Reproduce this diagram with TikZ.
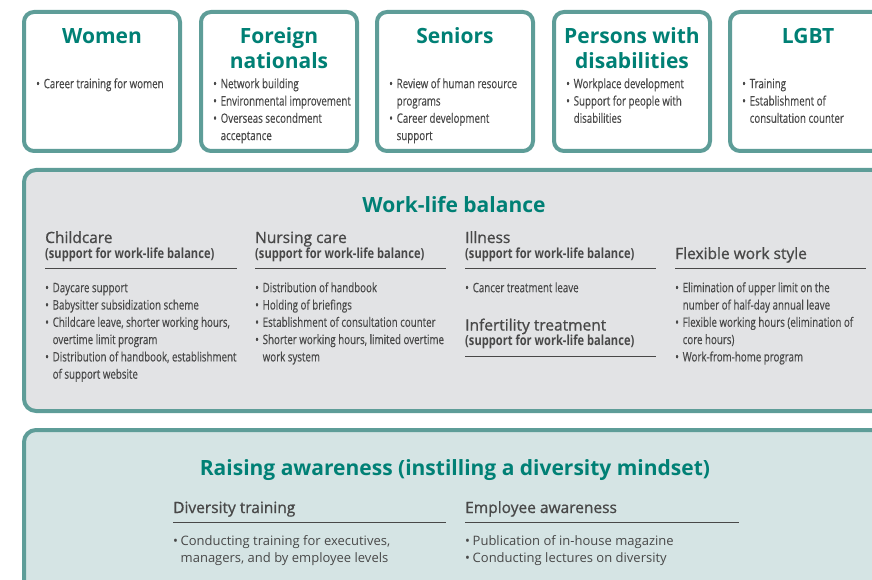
\documentclass[tikz,border=0pt]{standalone}
\usepackage{fontspec}
\setmainfont{Open Sans}
\newfontfamily\narrowfont[FakeStretch=0.75,FakeBold=0.3]{Open Sans}
\newfontfamily\narrowsemi[FakeStretch=0.8]{Open Sans}
\newfontfamily\semifont[FakeBold=0.9]{Open Sans}
\usepackage{tikz}
\usetikzlibrary{positioning}
\definecolor{FrameTeal}{RGB}{94,157,152}
\definecolor{HeadTeal}{RGB}{0,128,117}
\definecolor{InkGray}{RGB}{72,72,72}
\definecolor{PanelGray}{RGB}{226,227,229}
\definecolor{PanelTeal}{RGB}{213,228,228}
\newcommand\bul{\makebox[7.5pt][l]{\textbullet}}
\newcommand\blist[1]{\begin{tabular}{@{}l@{}l@{}}#1\end{tabular}}
\tikzset{
  grp/.style={draw=FrameTeal,line width=4pt,rounded corners=10pt,fill=white,
    minimum width=156pt,minimum height=139pt,inner sep=0pt},
  grptitle/.style={text=HeadTeal,font=\bfseries\fontsize{21}{25.5}\selectfont,
    align=center,anchor=north,inner sep=0pt},
  panel/.style={draw=FrameTeal,line width=4pt,rounded corners=12pt,inner sep=0pt,
    minimum width=866pt},
  items/.style={text=InkGray,font=\narrowfont\fontsize{13}{17.3}\selectfont,
    anchor=north west,inner sep=0pt},
  head/.style={text=InkGray,font=\semifont\fontsize{15.5}{18}\selectfont,anchor=base west,inner sep=0pt},
  subhead/.style={text=InkGray,font=\narrowsemi\bfseries\fontsize{13.9}{16}\selectfont,
    anchor=base west,inner sep=0pt},
  rule/.style={draw=InkGray,line width=0.9pt},
}

\begin{document}
\begin{tikzpicture}[x=1pt,y=-1pt]
\useasboundingbox (0,0) rectangle (872,580);
\clip (0,0) rectangle (872,580);

% target groups
\node[grp] (women) at (102,81.5) {};
\node[grp] (foreign) at (279,81.5) {};
\node[grp] (seniors) at (455,81.5) {};
\node[grp] (disab) at (632,81.5) {};
\node[grp] (lgbt) at (808,81.5) {};

\node[grptitle] (womenT) at (102,25.15) {\strut Women};
\node[grptitle] (foreignT) at (279,25.15) {\strut Foreign\\nationals};
\node[grptitle] (seniorsT) at (455,25.15) {\strut Seniors};
\node[grptitle] (disabT) at (632,25.15) {\strut Persons with\\disabilities};
\node[grptitle] (lgbtT) at (808,25.15) {\strut LGBT};

\node[items] (womenL) at (36,75.9) {\blist{\bul & Career training for women}};
\node[items] (foreignL) at (213,75.9) {\blist{\bul & Network building\\
  \bul & Environmental improvement\\ \bul & Overseas secondment\\ & acceptance}};
\node[items] (seniorsL) at (389,75.9) {\blist{\bul & Review of human resource\\
  & programs\\ \bul & Career development\\ & support}};
\node[items] (disabL) at (566,75.9) {\blist{\bul & Workplace development\\
  \bul & Support for people with\\ & disabilities}};
\node[items] (lgbtL) at (742,75.9) {\blist{\bul & Training\\
  \bul & Establishment of\\ & consultation counter}};

% work-life balance
\node[panel,fill=PanelGray,minimum height=241pt] (wlb) at (457,290.5) {};
\node[grptitle] (wlbT) at (454,194.15) {\strut Work-life balance};

\node[head] (childH) at (45,243) {Childcare};
\node[subhead] (childS) at (45,258) {(support for work-life balance)};
\node[head] (nurseH) at (255,243) {Nursing care};
\node[subhead] (nurseS) at (255,258) {(support for work-life balance)};
\node[head] (illH) at (465,243) {Illness};
\node[subhead] (illS) at (465,258) {(support for work-life balance)};
\node[head] (flexH) at (675,259) {Flexible work style};
\draw[rule] (45,268) -- ++(192,0);
\draw[rule] (255,268) -- ++(191,0);
\draw[rule] (465,268) -- ++(191,0);
\draw[rule] (675,268) -- ++(191,0);

\node[items] (childL) at (45,279.9) {\blist{\bul & Daycare support\\
  \bul & Babysitter subsidization scheme\\
  \bul & Childcare leave, shorter working hours,\\ & overtime limit program\\
  \bul & Distribution of handbook, establishment\\ & of support website}};
\node[items] (nurseL) at (255,279.9) {\blist{\bul & Distribution of handbook\\
  \bul & Holding of briefings\\ \bul & Establishment of consultation counter\\
  \bul & Shorter working hours, limited overtime\\ & work system}};
\node[items] (illL) at (465,279.9) {\blist{\bul & Cancer treatment leave}};
\node[items] (flexL) at (675,279.9) {\blist{\bul & Elimination of upper limit on the\\
  & number of half-day annual leave\\
  \bul & Flexible working hours (elimination of\\ & core hours)\\
  \bul & Work-from-home program}};

\node[head] (infH) at (465,330.5) {Infertility treatment};
\node[subhead] (infS) at (465,345.5) {(support for work-life balance)};
\draw[rule] (465,356) -- ++(191,0);

% raising awareness
\node[panel,fill=PanelTeal,minimum height=190pt] (aware) at (457,525) {};
\node[grptitle] (awareT) at (455,457.15) {\strut Raising awareness (instilling a diversity mindset)};

\node[head] (trainH) at (173,513) {Diversity training};
\node[head] (emplH) at (465,513) {Employee awareness};
\draw[rule] (173,522) -- ++(273,0);
\draw[rule] (465,522) -- ++(274,0);

\node[items,font=\fontsize{13}{17}\selectfont] (trainL) at (173,533.1)
  {\blist{\bul & Conducting training for executives,\\ & managers, and by employee levels}};
\node[items,font=\fontsize{13}{17}\selectfont] (emplL) at (465,533.1)
  {\blist{\bul & Publication of in-house magazine\\ \bul & Conducting lectures on diversity}};
\end{tikzpicture}
\end{document}
